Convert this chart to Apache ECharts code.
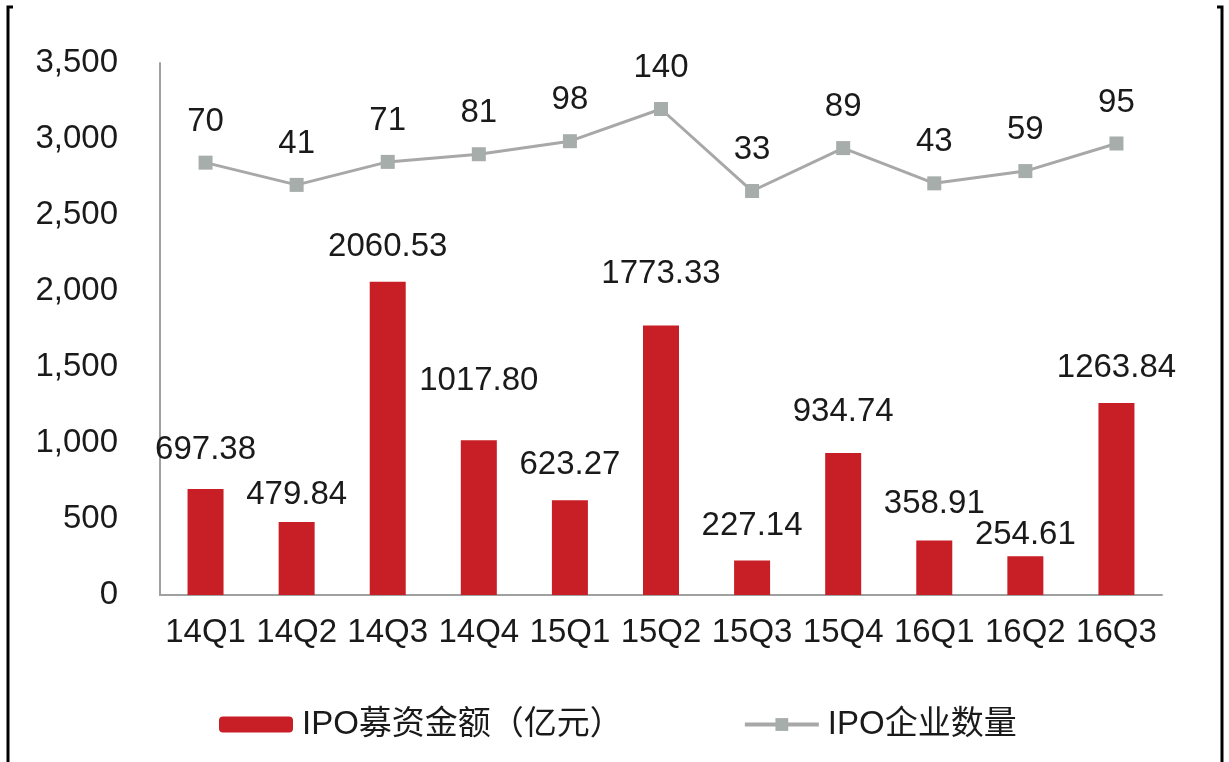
<!DOCTYPE html>
<html>
<head>
<meta charset="utf-8">
<script src="https://cdn.jsdelivr.net/npm/echarts@6/dist/echarts.min.js"></script>
<style>
  html, body { margin: 0; padding: 0; background: #ffffff; }
  #chart { width: 1229px; height: 762px; }
</style>
</head>
<body>
<div id="chart"></div>
<script>
// Quarterly IPO fundraising and number of listed companies
const quarters = ['14Q1', '14Q2', '14Q3', '14Q4', '15Q1', '15Q2', '15Q3', '15Q4', '16Q1', '16Q2', '16Q3'];
const ipoAmount = [697.38, 479.84, 2060.53, 1017.80, 623.27, 1773.33, 227.14, 934.74, 358.91, 254.61, 1263.84];
const ipoCount = [70, 41, 71, 81, 98, 140, 33, 89, 43, 59, 95];
const leftTicks = [0, 500, 1000, 1500, 2000, 2500, 3000, 3500];

// extra lift (px) for individual bar value labels
const barLabelRaise = [4, -8, 0, 24, 0, 17, 0, 6, 2, -14, 0];

const FONT = "'Liberation Sans', Arial, 'Noto Sans CJK SC', sans-serif";
const FS = 33;
const TEXT = '#1a1a1a';
const RED = '#c81e26';
const GREY_LINE = '#a8a8a8';
const GREY_MARK = '#a6adab';

const chart = echarts.init(document.getElementById('chart'), null, { renderer: 'canvas' });

chart.setOption({
  backgroundColor: '#ffffff',
  animation: false,
  textStyle: { fontFamily: FONT },
  grid: { left: 160, right: 67, top: 63, bottom: 167, containLabel: false },
  legend: {
    left: 214,
    top: 703,
    itemWidth: 74,
    itemHeight: 16,
    itemGap: 120,
    textStyle: { fontFamily: FONT, fontSize: 33, color: TEXT, padding: [0, 0, 0, 4] },
    data: [
      { name: 'IPO募资金额（亿元）' },
      { name: 'IPO企业数量', lineStyle: { width: 4, color: GREY_LINE }, itemStyle: { color: GREY_MARK } }
    ]
  },
  xAxis: {
    type: 'category',
    data: quarters,
    axisLine: { show: true, lineStyle: { color: '#a0a0a0', width: 2 } },
    axisTick: { show: false },
    axisLabel: { color: TEXT, fontSize: FS, margin: 21, fontFamily: FONT, interval: 0 }
  },
  yAxis: [
    {
      type: 'value',
      min: leftTicks[0],
      max: leftTicks[leftTicks.length - 1],
      interval: 500,
      axisLine: { show: true, lineStyle: { color: '#a0a0a0', width: 2 } },
      axisTick: { show: false },
      splitLine: { show: false },
      axisLabel: {
        color: TEXT,
        fontSize: FS,
        margin: 42,
        fontFamily: FONT,
        formatter: v => v.toLocaleString('en-US')
      }
    },
    {
      type: 'value',
      min: -494,
      max: 200,
      show: false,
      splitLine: { show: false }
    }
  ],
  series: [
    {
      name: 'IPO募资金额（亿元）',
      type: 'bar',
      yAxisIndex: 0,
      barWidth: 36,
      itemStyle: { color: RED },
      data: ipoAmount.map((v, i) => ({ value: v, label: { distance: 19 + barLabelRaise[i] } })),
      label: {
        show: true,
        position: 'top',
        color: TEXT,
        fontSize: FS,
        lineHeight: 32,
        fontFamily: FONT,
        formatter: p => Number(p.value).toFixed(2)
      }
    },
    {
      name: 'IPO企业数量',
      type: 'line',
      yAxisIndex: 1,
      data: ipoCount,
      symbol: 'rect',
      symbolSize: 14,
      lineStyle: { color: GREY_LINE, width: 3 },
      itemStyle: { color: GREY_MARK },
      label: {
        show: true,
        position: 'top',
        distance: 18,
        color: TEXT,
        fontSize: FS,
        lineHeight: 32,
        fontFamily: FONT
      }
    }
  ],
  graphic: [
    {
      type: 'polyline',
      shape: { points: [[13, 7], [8, 7], [8, 762]] },
      style: { stroke: '#000000', lineWidth: 3, fill: null }
    },
    {
      type: 'polyline',
      shape: { points: [[1217, 7], [1222, 7], [1222, 762]] },
      style: { stroke: '#000000', lineWidth: 3, fill: null }
    }
  ]
});
</script>
</body>
</html>
